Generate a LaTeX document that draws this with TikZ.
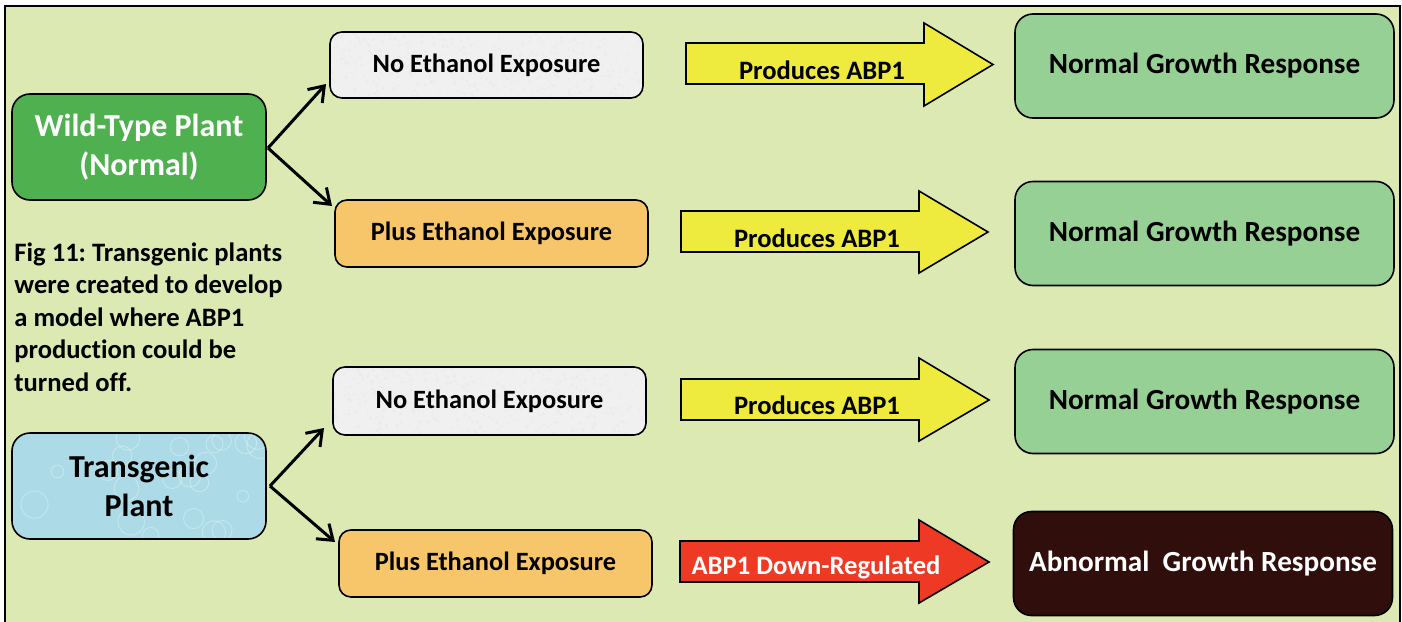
\documentclass[tikz,border=0pt]{standalone}
\usepackage{fontspec}
\setmainfont{Carlito}[Ligatures=NoCommon]
\usetikzlibrary{arrows.meta,calc}
\definecolor{bg}{RGB}{221,233,178}
\definecolor{wildgreen}{RGB}{78,176,78}
\definecolor{orangebox}{RGB}{248,198,106}
\definecolor{yellowarr}{RGB}{238,234,62}
\definecolor{normalgreen}{RGB}{150,208,148}
\definecolor{redarr}{RGB}{238,58,36}
\definecolor{abnormal}{RGB}{48,14,12}
\definecolor{greybox}{RGB}{240,240,240}
\definecolor{bluebox}{RGB}{172,218,230}
\frenchspacing
\begin{document}
\begin{tikzpicture}[x=0.5pt,y=-0.5pt,
  box/.style={draw=black,line width=0.8pt,rounded corners=6pt,align=center,font=\bfseries,inner sep=0pt},
  smallbox/.style={box,minimum width=156.5pt,minimum height=33.5pt,font=\fontsize{13.2}{15}\selectfont\bfseries},
  bigbox/.style={box,rounded corners=9pt,minimum width=189.5pt,minimum height=52pt,font=\fontsize{14.6}{17}\selectfont\bfseries},
  plantbox/.style={box,rounded corners=9pt,minimum width=127pt,minimum height=53pt,font=\fontsize{16}{19.5}\selectfont\bfseries},
  greytex/.style={fill=greybox,path picture={
      \pgfmathsetseed{7}
      \foreach \i in {1,...,500}{
        \pgfmathsetmacro{\rx}{rnd}\pgfmathsetmacro{\ry}{rnd}\pgfmathsetmacro{\rr}{0.3+0.6*rnd}
        \fill[black!8] ($(path picture bounding box.south west)!\rx!(path picture bounding box.south east)$) ++(0,{\ry*-70}) circle[radius=\rr pt];
      }}},
  bluetex/.style={fill=bluebox,path picture={
      \pgfmathsetseed{3}
      \foreach \i in {1,...,22}{
        \pgfmathsetmacro{\rx}{rnd}\pgfmathsetmacro{\ry}{rnd}\pgfmathsetmacro{\rr}{2+5*rnd}
        \draw[white,opacity=0.3,line width=0.5pt] ($(path picture bounding box.south west)!\rx!(path picture bounding box.south east)$) ++(0,{\ry*-106}) circle[radius=\rr pt];
      }}},
  fork/.style={line width=1.5pt,-{Straight Barb[length=7pt,width=10pt,line width=1.5pt]}},
  blockarr/.style={draw=black,line width=0.8pt},
  arrlabel/.style={font=\fontsize{13.3}{15}\selectfont\bfseries,inner sep=0pt}
]
\useasboundingbox (0,0) rectangle (1402,621);
\fill[white] (0,0) rectangle (1402,621);
\draw[fill=bg,line width=0.8pt] (5,6) rectangle (1400,630);

% plants
\node[plantbox,fill=wildgreen,text=white] (wt) at (139,147) {Wild-Type Plant\\(Normal)};
\node[plantbox,bluetex] (tg) at (139,486) {Transgenic\\Plant};

% condition boxes
\node[smallbox,greytex,minimum height=33pt] (ne1) at (486.5,65) {No Ethanol Exposure};
\node[smallbox,fill=orangebox] (pe1) at (491.5,233.5) {Plus Ethanol Exposure};
\node[smallbox,greytex,minimum height=34pt] (ne2) at (489.5,401) {No Ethanol Exposure};
\node[smallbox,fill=orangebox] (pe2) at (495.5,563.5) {Plus Ethanol Exposure};

% responses
\node[bigbox,fill=normalgreen] (r1) at (1204.5,66) {Normal Growth Response};
\node[bigbox,fill=normalgreen] (r2) at (1204.5,233.5) {Normal Growth Response};
\node[bigbox,fill=normalgreen] (r3) at (1204.5,401.5) {Normal Growth Response};
\node[bigbox,fill=abnormal,text=white] (r4) at (1203,563.5) {Abnormal\ \ Growth Response};

% fork arrows
\coordinate (f1) at (268,148);
\coordinate (t1) at (326,84);
\coordinate (t2) at (332,206);
\coordinate (f2) at (270,486);
\coordinate (t3) at (324,428);
\coordinate (t4) at (335,542);
\draw[fork] (f1) -- (t1);
\draw[fork] (f1) -- (t2);
\draw[fork] (f2) -- (t3);
\draw[fork] (f2) -- (t4);

% block arrows
\draw[blockarr,fill=yellowarr] (686,43) -- (924,43) -- (924,23) -- (993,64.5) -- (924,106) -- (924,84) -- (686,84) -- cycle;
\draw[blockarr,fill=yellowarr] (681,211) -- (919,211) -- (919,191) -- (988,232) -- (919,273) -- (919,252) -- (681,252) -- cycle;
\draw[blockarr,fill=yellowarr] (681,379) -- (919,379) -- (919,358) -- (989,400) -- (919,441) -- (919,420) -- (681,420) -- cycle;
\draw[blockarr,fill=redarr] (680,541) -- (919,541) -- (919,520) -- (989,562) -- (919,603) -- (919,582) -- (680,582) -- cycle;
\node[arrlabel] (l1) at (822,70) {Produces ABP1};
\node[arrlabel] (l2) at (817,238) {Produces ABP1};
\node[arrlabel] (l3) at (817,405) {Produces ABP1};
\node[arrlabel,text=white] (l4) at (816,567) {ABP1 Down-Regulated};

% caption
\node[anchor=north west,inner sep=0pt,align=left,font=\fontsize{13.3}{16.25}\selectfont\bfseries] (cap) at (14,242)
{Fig 11: Transgenic plants\\were created to develop\\a model where ABP1\\production could be\\turned off.};
\end{tikzpicture}
\end{document}
